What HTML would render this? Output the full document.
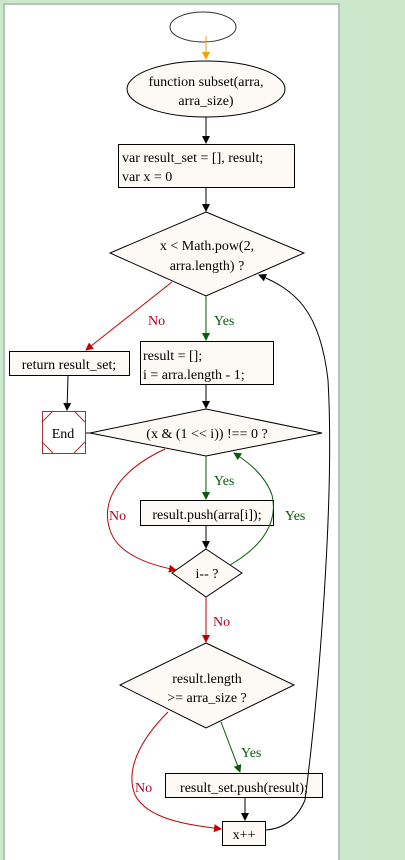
<!DOCTYPE html>
<html><head><meta charset="utf-8"><style>
html,body{margin:0;padding:0;width:405px;height:860px;overflow:hidden;background:#cbe7cc;}
svg, svg text{font-family:"Liberation Serif","DejaVu Serif",serif !important;font-size:14px;}
</style></head><body>
<svg width="405" height="860" viewBox="0 0 405 860" font-family="Liberation Serif, serif" font-size="14">
<defs>
<marker id="ab" markerWidth="8" markerHeight="10" refX="7" refY="5" orient="auto" markerUnits="userSpaceOnUse"><path d="M0,1 L8,5 L0,9 Z" fill="#000"/></marker>
<marker id="ag" markerWidth="8" markerHeight="10" refX="7" refY="5" orient="auto" markerUnits="userSpaceOnUse"><path d="M0,1 L8,5 L0,9 Z" fill="#0a5a0a"/></marker>
<marker id="ar" markerWidth="8" markerHeight="10" refX="7" refY="5" orient="auto" markerUnits="userSpaceOnUse"><path d="M0,1 L8,5 L0,9 Z" fill="#c00000"/></marker>
<marker id="ao" markerWidth="8" markerHeight="10" refX="7" refY="5" orient="auto" markerUnits="userSpaceOnUse"><path d="M0,1 L8,5 L0,9 Z" fill="#f5a000"/></marker>
</defs>
<rect x="4" y="4" width="335" height="860" fill="#fff" stroke="#b8c2b8" stroke-width="2"/>
<g fill="#fdfaf6" stroke="#000" stroke-width="1">
<ellipse cx="203" cy="27" rx="33" ry="15" fill="#fff" stroke="#333"/>
<ellipse cx="206" cy="89" rx="79" ry="28"/>
<rect x="118.5" y="144.5" width="176" height="43"/>
<polygon points="206,212 304,253 206,296 110,253"/>
<rect x="9.5" y="351.5" width="120" height="24"/>
<rect x="140.5" y="341.5" width="133" height="43"/>
<polygon points="206,409 322,433 206,456 90,433"/>
<rect x="140.5" y="500.5" width="133" height="25"/>
<polygon points="206,549 242,573 206,597 172,573"/>
<polygon points="206,643 294,685 206,728 120,685"/>
<rect x="165.5" y="773.5" width="157" height="24"/>
<rect x="222.5" y="821.5" width="43" height="24"/>
</g>
<g stroke="#a03040" fill="none">
<rect x="42.5" y="411.5" width="43" height="42" fill="#fff"/>
<path d="M42,422 L53,411 M74,411 L85,422 M85,442 L74,453 M53,453 L42,442"/>
</g>
<g fill="none" stroke-width="1">
<path d="M206,36 L206,59" stroke="#f5a000" marker-end="url(#ao)"/>
<path d="M206,117 L206,143" stroke="#000" marker-end="url(#ab)"/>
<path d="M206,188 L206,211" stroke="#000" marker-end="url(#ab)"/>
<path d="M172,282 L86,350" stroke="#c00000" marker-end="url(#ar)"/>
<path d="M206,296 L206,340" stroke="#0a5a0a" marker-end="url(#ag)"/>
<path d="M68,376 L67,410" stroke="#000" marker-end="url(#ab)"/>
<path d="M86,433 L92,433" stroke="#000"/>
<path d="M206,385 L206,408" stroke="#000" marker-end="url(#ab)"/>
<path d="M206,456 L206,499" stroke="#0a5a0a" marker-end="url(#ag)"/>
<path d="M165,449 C120,470 100,500 110,530 C118,555 150,565 176,570" stroke="#c00000" marker-end="url(#ar)"/>
<path d="M206,526 L206,548" stroke="#000" marker-end="url(#ab)"/>
<path d="M230,565 C265,545 278,520 272,495 C265,475 248,462 234,453" stroke="#0a5a0a" marker-end="url(#ag)"/>
<path d="M206,597 L206,642" stroke="#c00000" marker-end="url(#ar)"/>
<path d="M221,722 L240,772" stroke="#0a5a0a" marker-end="url(#ag)"/>
<path d="M168,712 C140,740 125,770 135,795 C148,820 190,825 221,829" stroke="#c00000" marker-end="url(#ar)"/>
<path d="M245,798 L245,820" stroke="#000" marker-end="url(#ab)"/>
<path d="M266,830 C290,828 300,812 305,800 C318,700 335,500 328,380 C320,310 295,290 259,275" stroke="#000" marker-end="url(#ab)"/>
</g>
<g fill="#000" font-family="Liberation Serif, serif">
<text x="206" y="86" text-anchor="middle">function subset(arra,</text>
<text x="206" y="105" text-anchor="middle">arra_size)</text>
<text x="122" y="162">var result_set = [], result;</text>
<text x="122" y="181">var x = 0</text>
<text x="207" y="250" text-anchor="middle">x &lt; Math.pow(2,</text>
<text x="207" y="270" text-anchor="middle">arra.length) ?</text>
<text x="69" y="369" text-anchor="middle">return result_set;</text>
<text x="63" y="438" text-anchor="middle">End</text>
<text x="143" y="360">result = [];</text>
<text x="143" y="379">i = arra.length - 1;</text>
<text x="207" y="438" text-anchor="middle">(x &amp; (1 &lt;&lt; i)) !== 0 ?</text>
<text x="207" y="519" text-anchor="middle">result.push(arra[i]);</text>
<text x="207" y="578" text-anchor="middle">i-- ?</text>
<text x="207" y="683" text-anchor="middle">result.length</text>
<text x="207" y="702" text-anchor="middle">&gt;= arra_size ?</text>
<text x="244" y="792" text-anchor="middle">result_set.push(result);</text>
<text x="244" y="839" text-anchor="middle">x++</text>
</g>
<g fill="#0a5a0a" font-family="Liberation Serif, serif">
<text x="214" y="325">Yes</text>
<text x="214" y="485">Yes</text>
<text x="285" y="520">Yes</text>
<text x="241" y="757">Yes</text>
</g>
<g fill="#b00020" font-family="Liberation Serif, serif">
<text x="148" y="325">No</text>
<text x="109" y="520">No</text>
<text x="213" y="626">No</text>
<text x="135" y="792">No</text>
</g>
</svg>
</body></html>
